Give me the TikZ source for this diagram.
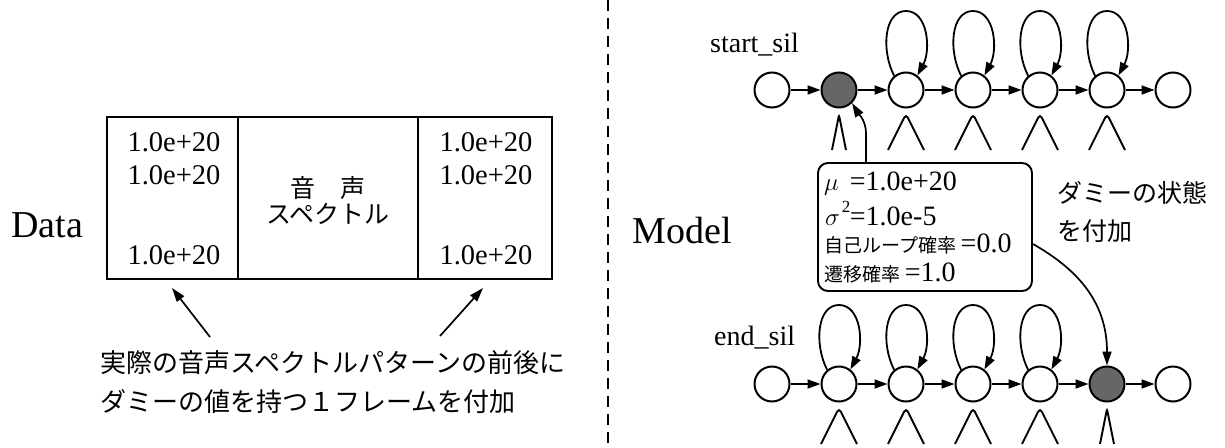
\documentclass[tikz,border=0pt]{standalone}
\usepackage{fontspec}
\setmainfont{Liberation Serif}
\newfontfamily\jp{Noto Sans CJK JP}
\usetikzlibrary{arrows.meta,calc}

\tikzset{
  state/.style={circle, draw, line width=2pt, minimum size=35pt, inner sep=0pt},
  dummy/.style={state, fill=black!60},
  tr/.style={line width=1.8pt, -{Triangle[length=13pt,width=9pt]}},
  bump/.style={line width=1.9pt, rounded corners=4pt},
  thinbump/.style={line width=1.9pt, rounded corners=2pt},
  cell/.style={draw, line width=1.9pt, minimum height=162pt, inner sep=0pt},
  num/.style={font=\fontsize{28.5}{30}\selectfont, inner sep=0pt},
  big/.style={font=\fontsize{38}{40}\selectfont, inner sep=0pt},
  lbl/.style={font=\fontsize{28}{30}\selectfont, inner sep=0pt},
  jtext/.style={font=\jp\fontsize{25}{27}\selectfont, inner sep=0pt},
  boxline/.style={font=\fontsize{28}{30}\selectfont, inner sep=0pt, anchor=west},
  note/.style={draw, line width=1.9pt, rounded corners=10pt, minimum width=214pt, minimum height=128pt, inner sep=0pt},
  pointer/.style={line width=1.7pt, -{Triangle[length=14pt,width=9pt]}}
}
\newcommand{\jsmall}{\jp\fontsize{19}{21}\selectfont}

\begin{document}
\begin{tikzpicture}[x=1pt,y=-1pt]
\useasboundingbox (0,0) rectangle (1225,447);

% ---------- data frame ----------
\node[big] (data) at (47,225) {Data};
\node[cell, minimum width=131pt] (c1) at (172.5,198) {};
\node[cell, minimum width=180pt] (c2) at (328,198) {};
\node[cell, minimum width=134pt] (c3) at (485,198) {};

\node[num] (l1) at (174,142) {1.0e+20};
\node[num] (l2) at (174,175) {1.0e+20};
\node[num] (l3) at (174,255) {1.0e+20};
\node[num] (r1) at (486,142) {1.0e+20};
\node[num] (r2) at (486,175) {1.0e+20};
\node[num] (r3) at (486,255) {1.0e+20};
\node[jtext] (sp1) at (328,188) {音　声};
\node[jtext] (sp2) at (328,214) {スペクトル};

\coordinate (la) at (210,337);
\coordinate (lt) at (172,288);
\coordinate (ra) at (440,336);
\coordinate (rt) at (483,288);
\draw[pointer] (la) -- (lt);
\draw[pointer] (ra) -- (rt);

\node[jtext, font=\jp\fontsize{26}{28}\selectfont, anchor=west] (cap1) at (100,363) {実際の音声スペクトルパターンの前後に};
\node[jtext, font=\jp\fontsize{26}{28}\selectfont, anchor=west] (cap2) at (100,402) {ダミーの値を持つ１フレームを付加};

% ---------- separator ----------
\coordinate (dtop) at (608,0);
\coordinate (dbot) at (608,447);
\draw[line width=2pt, dash pattern=on 11pt off 7pt] (dtop) -- (dbot);

% ---------- models ----------
\node[big] (model) at (682,230) {Model};
\node[lbl, anchor=base west] (startlbl) at (710,52) {start\_sil};
\node[lbl, anchor=base west] (endlbl) at (714,345) {end\_sil};

% start_sil row
\node[state] (s0) at (772,90) {};
\node[dummy] (s1) at (839,90) {};
\node[state] (s2) at (906,90) {};
\node[state] (s3) at (973,90) {};
\node[state] (s4) at (1040,90) {};
\node[state] (s5) at (1107,90) {};
\node[state] (s6) at (1173,90) {};

% end_sil row
\node[state] (e0) at (772,384) {};
\node[state] (e1) at (839,384) {};
\node[state] (e2) at (906,384) {};
\node[state] (e3) at (973,384) {};
\node[state] (e4) at (1040,384) {};
\node[dummy] (e5) at (1107,384) {};
\node[state] (e6) at (1173,384) {};

% forward transitions
\foreach \a/\b in {s0/s1,s1/s2,s2/s3,s3/s4,s4/s5,s5/s6,e0/e1,e1/e2,e2/e3,e3/e4,e4/e5,e5/e6}
  \draw[tr] (\a) -- (\b);

% self loops
\foreach \n in {s2,s3,s4,s5,e1,e2,e3,e4}
  \draw[tr] (\n.130) .. controls ($(\n)+(-25,-40)$) and ($(\n)+(-22,-79)$) ..
    ($(\n)+(0,-79)$) .. controls ($(\n)+(22,-79)$) and ($(\n)+(25,-40)$) .. (\n.52);

% output distributions
\foreach \n in {s2,s3,s4,s5,e1,e2,e3,e4}
  \draw[bump] ($(\n)+(-18,60)$) -- ($(\n)+(0,24)$) -- ($(\n)+(18,60)$);
\foreach \n in {s1,e5}
  \draw[thinbump] ($(\n)+(-7,60)$) -- ($(\n)+(0,25)$) -- ($(\n)+(7,60)$);

% parameters of the dummy state
\node[note] (ann) at (925,227) {};
\node[boxline] (p1) at (824,184) {$\mu$\hspace{11pt}=1.0e+20};
\node[boxline] (p2) at (825,214) {$\sigma$\hspace{2pt}\rlap{\raisebox{13pt}{\fontsize{17}{17}\selectfont 2}}\hspace{8pt}=1.0e-5};
\node[boxline] (p3) at (824,244) {{\jsmall 自己ループ確率}\,=0.0};
\node[boxline] (p4) at (824,273) {{\jsmall 遷移確率}\,=1.0};

\draw[pointer] ($(ann.north west)+(49,0)$) -- ++(0,-28) .. controls +(0,-14) and ($(s1.-45)+(6,10)$) .. (s1.-45);
\draw[pointer] (ann.east |- p3) .. controls (1075,268) and (1107,300) .. (e5.north);

\node[jtext, anchor=west] (d1) at (1057,193) {ダミーの状態};
\node[jtext, anchor=west] (d2) at (1057,231) {を付加};

\end{tikzpicture}
\end{document}
